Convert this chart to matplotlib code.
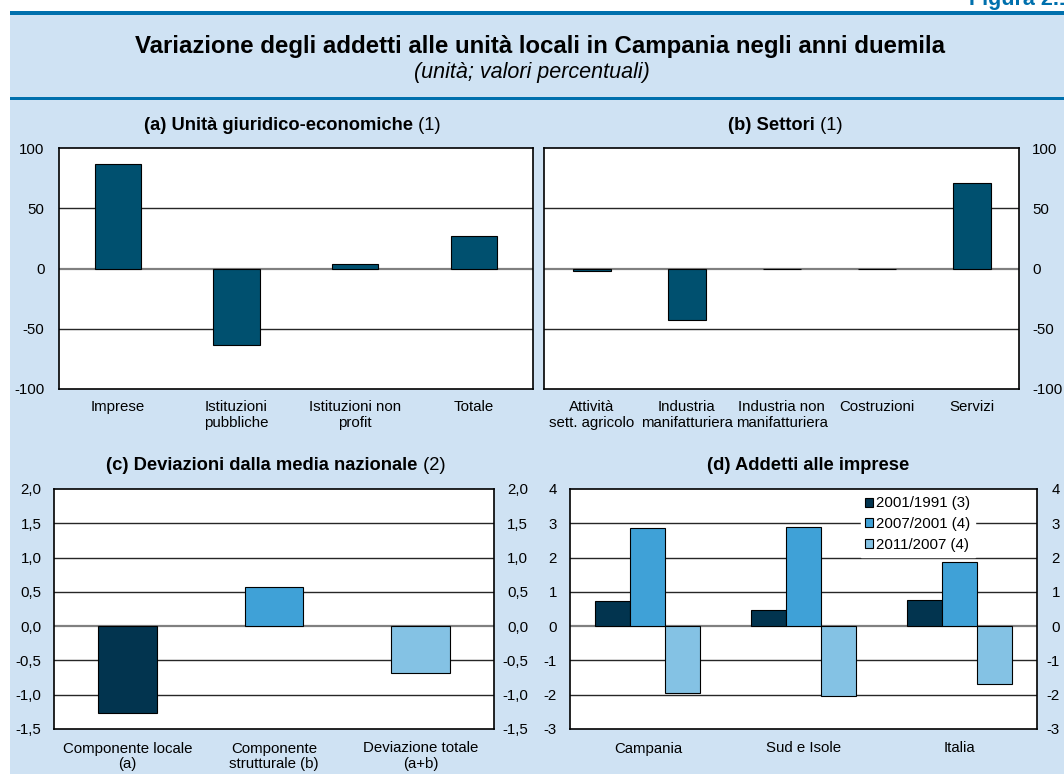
import matplotlib
matplotlib.use("Agg")
import matplotlib.pyplot as plt
import numpy as np
from matplotlib.patches import Rectangle

plt.rcParams['font.family'] = ['Liberation Sans', 'DejaVu Sans']

# ---------------- data ----------------
cat_a = ["Imprese", "Istituzioni\npubbliche", "Istituzioni non\nprofit", "Totale"]
val_a = [87.0, -63.9, 4.1, 26.8]

cat_b = ["Attività\nsett. agricolo", "Industria\nmanifatturiera", "Industria non\nmanifatturiera",
         "Costruzioni", "Servizi"]
val_b = [-1.9, -42.9, -0.6, -0.4, 71.1]

ticks_ab = [-100, -50, 0, 50, 100]
ticklabels_ab = ["-100", "-50", "0", "50", "100"]

cat_c = ["Componente locale\n(a)", "Componente\nstrutturale (b)", "Deviazione totale\n(a+b)"]
val_c = [-1.27, 0.57, -0.68]
ticks_c = [-1.5, -1.0, -0.5, 0.0, 0.5, 1.0, 1.5, 2.0]
ticklabels_c = ["-1,5", "-1,0", "-0,5", "0,0", "0,5", "1,0", "1,5", "2,0"]

cat_d = ["Campania", "Sud e Isole", "Italia"]
series_d = ["2001/1991 (3)", "2007/2001 (4)", "2011/2007 (4)"]
d_2001_1991 = [0.73, 0.47, 0.75]
d_2007_2001 = [2.86, 2.88, 1.88]
d_2011_2007 = [-1.96, -2.04, -1.70]
ticks_d = [-3, -2, -1, 0, 1, 2, 3, 4]
ticklabels_d = ["-3", "-2", "-1", "0", "1", "2", "3", "4"]

title_main = "Variazione degli addetti alle unità locali in Campania negli anni duemila"
subtitle_main = "(unità; valori percentuali)"
figure_tag = "Figura 2.1"

# ---------------- style ----------------
W, H = 1064, 774
BG = "#CFE2F3"
LINE_BLUE = "#0070AD"
BAR_AB = "#00506F"
C_DARK = "#02344F"
C_MID = "#3FA1D7"
C_LIGHT = "#84C2E4"
GRID = "#262626"
ZERO = "#808080"
FS = 10.8
FS_PANEL = 13.2

fig = plt.figure(figsize=(W / 100, H / 100), dpi=100)
fig.patch.set_facecolor("white")

def px_rect(x0, y0, x1, y1):
    """pixel coords (top-left origin) -> fig fraction rect"""
    return [x0 / W, 1 - y1 / H, (x1 - x0) / W, (y1 - y0) / H]

# background panel
fig.patches.append(Rectangle((10 / W, 0), 1 - 10 / W, 1 - 12 / H, transform=fig.transFigure,
                             facecolor=BG, edgecolor="none", zorder=-3))
# blue rules
for yt, yb in [(11, 14.5), (97, 100)]:
    fig.patches.append(Rectangle((10 / W, 1 - yb / H), 1 - 10 / W, (yb - yt) / H,
                                 transform=fig.transFigure, facecolor=LINE_BLUE,
                                 edgecolor="none", zorder=-2))

fig.text(969 / W, 1 - 5 / H, figure_tag, color=LINE_BLUE, fontsize=15.5, weight="bold",
         ha="left", va="baseline")

fig.text(540 / W, 1 - 46 / H, title_main, fontsize=17.3, weight="bold", ha="center", va="center")
fig.text(532 / W, 1 - 72.5 / H, subtitle_main, fontsize=15.5, style="italic", ha="center", va="center")

renderer = fig.canvas.get_renderer()

def mixed_title(xc, yc, bold, normal):
    t1 = fig.text(0, 1 - yc / H, bold, fontsize=FS_PANEL, weight="bold", ha="left", va="center")
    t2 = fig.text(0, 1 - yc / H, normal, fontsize=FS_PANEL, ha="left", va="center")
    w1 = t1.get_window_extent(renderer).width
    w2 = t2.get_window_extent(renderer).width if normal else 0
    start = xc - (w1 + w2) / 2
    t1.set_x(start / W)
    t2.set_x((start + w1) / W)

def style_axes(ax, ticks, labels, ylim):
    ax.set_facecolor("white")
    ax.set_ylim(*ylim)
    ax.set_yticks(ticks)
    ax.set_yticklabels(labels)
    for t in ticks:
        if t == 0:
            ax.axhline(0, color=ZERO, lw=1.6, zorder=1)
        elif ylim[0] < t < ylim[1]:
            ax.axhline(t, color=GRID, lw=1.0, zorder=1)
    for s in ax.spines.values():
        s.set_color("black")
        s.set_linewidth(1.2)
        s.set_zorder(5)
    ax.tick_params(axis="both", length=0, labelsize=FS, colors="black")

# ---- panel a ----
axa = fig.add_axes(px_rect(58.5, 148, 533, 389))
xa = np.arange(len(cat_a))
axa.bar(xa, val_a, width=0.39, color=BAR_AB, edgecolor="black", linewidth=0.8, zorder=3)
axa.set_xlim(-0.5, len(cat_a) - 0.5)
axa.set_xticks(xa)
axa.set_xticklabels(cat_a, linespacing=1.15)
style_axes(axa, ticks_ab, ticklabels_ab, (-100, 100))
axa.tick_params(axis="y", pad=10)
axa.tick_params(axis="x", pad=8)
mixed_title(292, 126, "(a) Unità giuridico-economiche", " (1)")

# ---- panel b ----
axb = fig.add_axes(px_rect(544, 148, 1019, 389))
xb = np.arange(len(cat_b))
axb.bar(xb, val_b, width=0.40, color=BAR_AB, edgecolor="black", linewidth=0.8, zorder=3)
axb.set_xlim(-0.5, len(cat_b) - 0.5)
axb.set_xticks(xb)
axb.set_xticklabels(cat_b, linespacing=1.15)
style_axes(axb, ticks_ab, ticklabels_ab, (-100, 100))
axb.yaxis.tick_right()
axb.tick_params(axis="y", pad=9.5)
axb.tick_params(axis="x", pad=8)
mixed_title(785, 126, "(b) Settori", " (1)")

# ---- panel c ----
axc = fig.add_axes(px_rect(54, 489, 494, 729))
xc = np.arange(len(cat_c))
axc.bar(xc, val_c, width=0.40, color=[C_DARK, C_MID, C_LIGHT], edgecolor="black",
        linewidth=0.8, zorder=3)
axc.set_xlim(-0.5, len(cat_c) - 0.5)
axc.set_xticks(xc)
axc.set_xticklabels(cat_c, linespacing=1.15)
style_axes(axc, ticks_c, ticklabels_c, (-1.5, 2.0))
axc.tick_params(axis="y", pad=9)
axc.tick_params(axis="x", pad=9)
axc2 = axc.secondary_yaxis("right")
axc2.set_yticks(ticks_c)
axc2.set_yticklabels(ticklabels_c)
axc2.tick_params(length=0, labelsize=FS, pad=24.5)
for lab in axc2.get_yticklabels():
    lab.set_horizontalalignment("right")
axc2.spines["right"].set_visible(False)
mixed_title(276, 466, "(c) Deviazioni dalla media nazionale", " (2)")

# ---- panel d ----
axd = fig.add_axes(px_rect(570, 489, 1037, 729))
xd = np.arange(len(cat_d))
bw = 0.225
for i, (vals, col, lab) in enumerate(zip([d_2001_1991, d_2007_2001, d_2011_2007],
                                         [C_DARK, C_MID, C_LIGHT], series_d)):
    axd.bar(xd + (i - 1) * bw, vals, width=bw, color=col, edgecolor="black", linewidth=0.8,
            zorder=3, label=lab)
axd.set_xlim(-0.5, len(cat_d) - 0.5)
axd.set_xticks(xd)
axd.set_xticklabels(cat_d)
style_axes(axd, ticks_d, ticklabels_d, (-3, 4))
axd.tick_params(axis="y", pad=9.5)
axd.tick_params(axis="x", pad=9)
axd2 = axd.secondary_yaxis("right")
axd2.set_yticks(ticks_d)
axd2.set_yticklabels(ticklabels_d)
axd2.tick_params(length=0, labelsize=FS, pad=16.5)
for lab in axd2.get_yticklabels():
    lab.set_horizontalalignment("right")
axd2.spines["right"].set_visible(False)
leg = axd.legend(loc="upper right", bbox_to_anchor=(0.874, 1.0), fontsize=FS,
                 frameon=True, fancybox=False, framealpha=1, facecolor="white",
                 edgecolor="white", handlelength=0.55, handleheight=0.55,
                 handletextpad=0.2, labelspacing=0.45, borderpad=0.3, borderaxespad=0.2)
leg.set_zorder(6)
mixed_title(808, 466, "(d) Addetti alle imprese", "")

fig.savefig("out.png", dpi=100, facecolor=fig.get_facecolor())
